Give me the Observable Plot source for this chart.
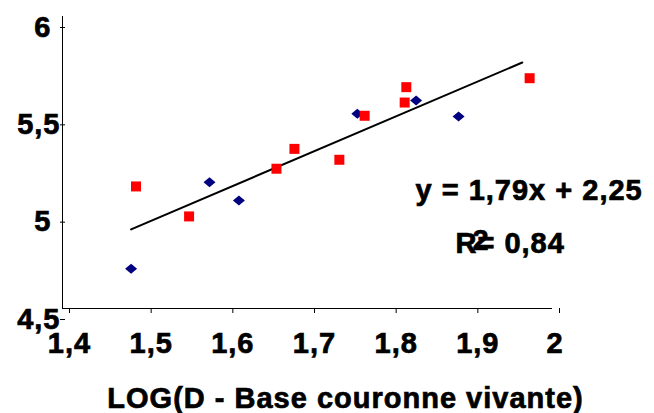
<!DOCTYPE html>
<html>
<head>
<meta charset="utf-8">
<script src="https://cdn.jsdelivr.net/npm/d3@7"></script>
<script src="https://cdn.jsdelivr.net/npm/@observablehq/plot@0.6"></script>
<style>
  html, body { margin: 0; padding: 0; background: #fff; }
  svg text { letter-spacing: 1px; font-family: "Liberation Sans", Arial, sans-serif !important; font-weight: 700 !important; stroke: #000 !important; stroke-width: 0.7px !important; fill: #000 !important; }
</style>
</head>
<body>
<div id="chart"></div>
<script>
// Series 1 (navy diamonds)
const blueX = [1.484, 1.580, 1.616, 1.761, 1.833, 1.885];
const blueY = [4.704, 5.149, 5.055, 5.500, 5.569, 5.486];
// Series 2 (red squares)
const redX = [1.490, 1.555, 1.662, 1.684, 1.739, 1.770, 1.819, 1.821, 1.972];
const redY = [5.127, 4.973, 5.218, 5.320, 5.264, 5.490, 5.558, 5.637, 5.683];
// Linear trend
const slope = [1.79];
const intercept = [2.25];
const r2 = [0.84];
const trendX = [1.484, 1.963];
// Axes
const xTicks = [1.4, 1.5, 1.6, 1.7, 1.8, 1.9, 2];
const yTicks = [4.5, 5, 5.5, 6];
const xDomain = [1.4, 2];
const yDomain = [4.5, 6];
const xLabel = "LOG(D - Base couronne vivante)";

const fmt = d => Number.isInteger(d) ? `${d}\u00a0` : String(+d.toFixed(2)).replace(".", ",");
const fmtNum = d => String(d).replace(".", ",");

const blue = blueX.map((x, i) => ({x, y: blueY[i]}));
const red = redX.map((x, i) => ({x, y: redY[i]}));
const trend = trendX.map(x => ({x, y: slope[0] * x + intercept[0]}));

const diamond = {draw(ctx) { ctx.moveTo(0, -5); ctx.lineTo(6, 0); ctx.lineTo(0, 5); ctx.lineTo(-6, 0); ctx.closePath(); }};
const square = {draw(ctx) { ctx.moveTo(-5, -5); ctx.lineTo(5, -5); ctx.lineTo(5, 5); ctx.lineTo(-5, 5); ctx.closePath(); }};

const txt = {fontSize: 29, fontWeight: "bold", fill: "black", frameAnchor: "top-left", textAnchor: "start", lineAnchor: "bottom"};

const chart = Plot.plot({
  width: 654,
  height: 413,
  marginLeft: 62,
  marginRight: 102,
  marginTop: 16,
  marginBottom: 105,
  style: {fontFamily: "Liberation Sans, Arial, sans-serif", fontWeight: "bold", fontSize: "29px", color: "black", background: "white"},
  x: {domain: xDomain},
  y: {domain: yDomain},
  marks: [
    Plot.axisX({ticks: xTicks, tickFormat: fmt, tickSize: 5, tickPadding: 19, dx: 7, label: null, stroke: "black", fontSize: 29}),
    Plot.axisY({ticks: yTicks, tickFormat: fmt, tickSize: 5, tickPadding: 0, dx: 3, dy: 11, label: null, stroke: "black", fontSize: 29}),
    Plot.ruleX([xDomain[0]], {stroke: "black", strokeWidth: 1}),
    Plot.ruleY([yDomain[0]], {stroke: "black", strokeWidth: 1}),
    Plot.line(trend, {x: "x", y: "y", stroke: "black", strokeWidth: 2}),
    Plot.dot(blue, {x: "x", y: "y", symbol: diamond, fill: "#000080", stroke: "none"}),
    Plot.dot(red, {x: "x", y: "y", symbol: square, fill: "#ff0000", stroke: "none"}),
    Plot.text([`y = ${fmtNum(slope[0])}x + ${fmtNum(intercept[0])}`], {...txt, text: d => d, dx: 353, dy: 183}),
    Plot.text([`R= ${fmtNum(r2[0])}`], {...txt, text: d => d, dx: 393, dy: 236}),
    Plot.text(["2"], {...txt, text: d => d, dx: 410, dy: 233}),
    Plot.text([xLabel], {fontSize: 29, fontWeight: "bold", fill: "black", frameAnchor: "bottom", textAnchor: "middle", lineAnchor: "bottom", text: d => d, dx: 38, dy: 99})
  ]
});
document.getElementById("chart").appendChild(chart);
</script>
</body>
</html>
